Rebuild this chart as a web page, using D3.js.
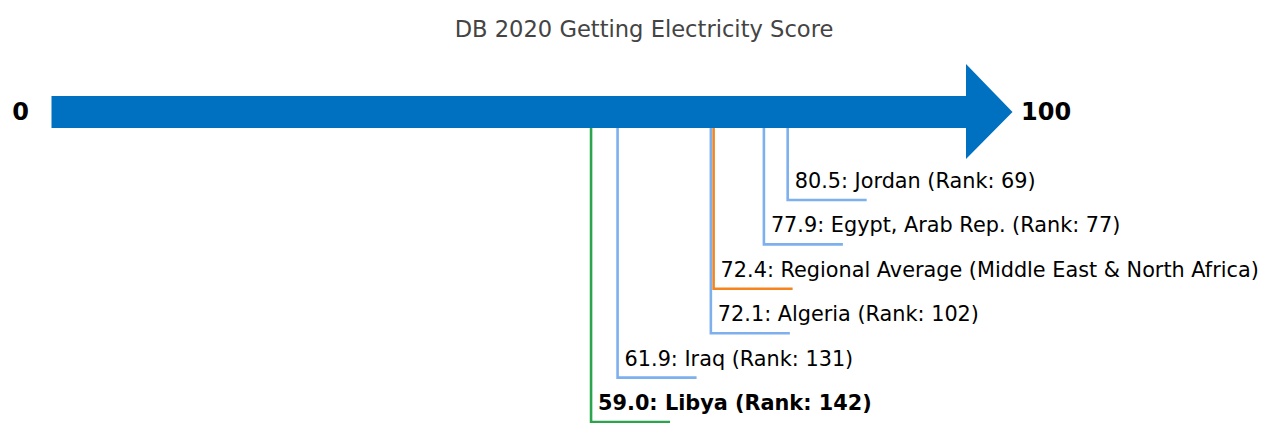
<!DOCTYPE html>
<html>
<head>
<meta charset="utf-8">
<script src="https://cdn.jsdelivr.net/npm/d3@7"></script>
<style>
  body { margin: 0; background: #fff; }
  text { font-family: "DejaVu Sans", sans-serif; }
</style>
</head>
<body>
<svg id="chart" width="1265" height="423"></svg>
<script>
const economies = ['Jordan', 'Egypt, Arab Rep.', 'Regional Average (Middle East & North Africa)', 'Algeria', 'Iraq', 'Libya'];
const scores = [80.5, 77.9, 72.4, 72.1, 61.9, 59.0];
const ranks = [69, 77, null, 102, 131, 142];
const kinds = ['peer', 'peer', 'region', 'peer', 'peer', 'focus'];
const axisEnds = [0, 100];

const COLORS = { peer: '#7eb0ee', region: '#f5841f', focus: '#2ca44e' };

const svg = d3.select('#chart');

const x = d3.scaleLinear().domain(axisEnds).range([51.5, 966]);
const y = d3.scalePoint().domain(d3.range(economies.length)).range([200, 422]);

const barTop = 96, barBottom = 128, barMid = (barTop + barBottom) / 2;

// title
svg.append('text')
  .attr('x', 644).attr('y', 37)
  .attr('text-anchor', 'middle')
  .attr('font-size', 22.6)
  .attr('fill', '#444')
  .text('DB 2020 Getting Electricity Score');

// leader lines (drawn first so the arrow covers their tops)
const rows = economies.map((name, i) => ({ name, score: scores[i], rank: ranks[i], kind: kinds[i], i }));

const g = svg.append('g');
rows.forEach(d => {
  const px = x(d.score), py = y(d.i);
  g.append('path')
    .attr('d', `M${px},${barMid} V${py} H${px + 79}`)
    .attr('fill', 'none')
    .attr('stroke', COLORS[d.kind])
    .attr('stroke-width', 2.6);
  g.append('text')
    .attr('x', px + 7).attr('y', py - 12)
    .attr('font-size', 20.8)
    .attr('font-weight', d.kind === 'focus' ? 'bold' : 'normal')
    .attr('fill', '#000')
    .text(d.rank == null ? `${d.score.toFixed(1)}: ${d.name}` : `${d.score.toFixed(1)}: ${d.name} (Rank: ${d.rank})`);
});

// arrow
const x0 = x(axisEnds[0]), x1 = x(axisEnds[1]);
svg.append('path')
  .attr('d', `M${x0},${barTop} H${x1} V64 L1012.5,${barMid} L${x1},159 V${barBottom} H${x0} Z`)
  .attr('fill', '#0070c0');

svg.append('text')
  .attr('x', 20.5).attr('y', barMid + 8)
  .attr('text-anchor', 'middle')
  .attr('font-size', 24).attr('font-weight', 'bold')
  .text(axisEnds[0]);
svg.append('text')
  .attr('x', 1021).attr('y', barMid + 8)
  .attr('font-size', 24).attr('font-weight', 'bold')
  .text(axisEnds[1]);
</script>
</body>
</html>
